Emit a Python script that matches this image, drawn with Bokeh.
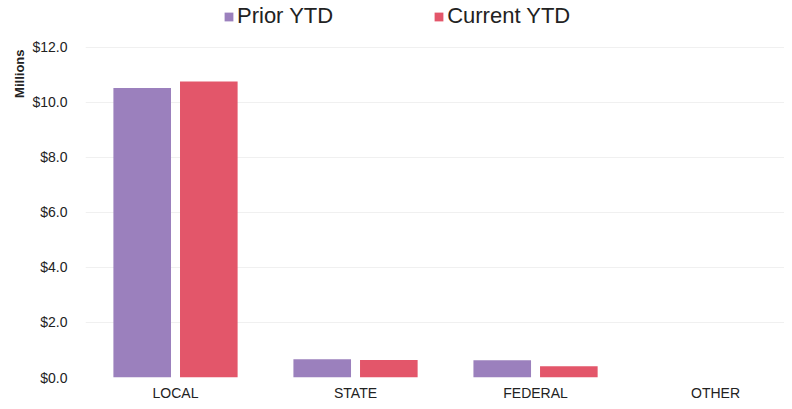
from bokeh.plotting import figure
from bokeh.models import ColumnDataSource, Range1d, FixedTicker, NumeralTickFormatter, Legend, LegendItem, Title
from bokeh.transform import dodge
from bokeh.embed import file_html
from bokeh.resources import INLINE

categories = ["LOCAL", "STATE", "FEDERAL", "OTHER"]
prior_ytd = [10.52, 0.66, 0.63, 0.0]
current_ytd = [10.76, 0.64, 0.41, 0.0]
series_names = ["Prior YTD", "Current YTD"]
y_ticks = [0, 2, 4, 6, 8, 10, 12]
y_title = "Millions"

FONT = "Liberation Sans"
PRIOR_COLOR = "#9b80bd"
CURRENT_COLOR = "#e3566a"

idx = list(range(len(categories)))
src = ColumnDataSource(dict(x=idx, cat=categories, prior=prior_ytd, current=current_ytd))

# extra headroom above $12.0 leaves room for the legend inside the frame
p = figure(width=784, height=403, output_backend="svg", toolbar_location=None,
           x_range=Range1d(-0.5, 3.383), y_range=Range1d(0, 13.70),
           min_border_left=85, min_border_right=0, min_border_top=0, min_border_bottom=22)

r1 = p.vbar(x=dodge("x", -0.185), top="prior", width=0.32, source=src,
            fill_color=PRIOR_COLOR, line_color=None)
r2 = p.vbar(x=dodge("x", 0.185), top="current", width=0.32, source=src,
            fill_color=CURRENT_COLOR, line_color=None)

p.xaxis.ticker = FixedTicker(ticks=idx)
p.xaxis.major_label_overrides = {i: c for i, c in zip(idx, categories)}
p.yaxis.ticker = FixedTicker(ticks=y_ticks)
p.yaxis.formatter = NumeralTickFormatter(format="$0.0")

for ax in (p.xaxis[0], p.yaxis[0]):
    ax.axis_line_color = None
    ax.major_tick_line_color = None
    ax.minor_tick_line_color = None
    ax.major_tick_out = 0
    ax.major_tick_in = 0
    ax.minor_tick_out = 0
    ax.minor_tick_in = 0
    ax.major_label_text_font = FONT
    ax.major_label_text_font_size = "14px"
    ax.major_label_text_color = "#222222"
p.yaxis.major_label_standoff = 18
p.xaxis.major_label_standoff = 7

p.xgrid.grid_line_color = None
p.ygrid.grid_line_color = "#f0f0f0"
p.outline_line_color = None

p.add_layout(Title(text=y_title, align="right", text_font=FONT, text_font_size="13px",
                   text_font_style="bold", text_color="#222222", standoff=5, offset=49), "left")

legend = Legend(items=[LegendItem(label=series_names[0], renderers=[r1]),
                       LegendItem(label=series_names[1], renderers=[r2])],
                orientation="horizontal", location=(138, 348),
                label_text_font=FONT, label_text_font_size="22px", label_text_color="#222222",
                glyph_width=11, glyph_height=11, spacing=100, padding=0, margin=0,
                border_line_color=None, background_fill_alpha=0, label_standoff=3)
p.add_layout(legend)

open("out.html", "w").write(file_html(p, INLINE))
